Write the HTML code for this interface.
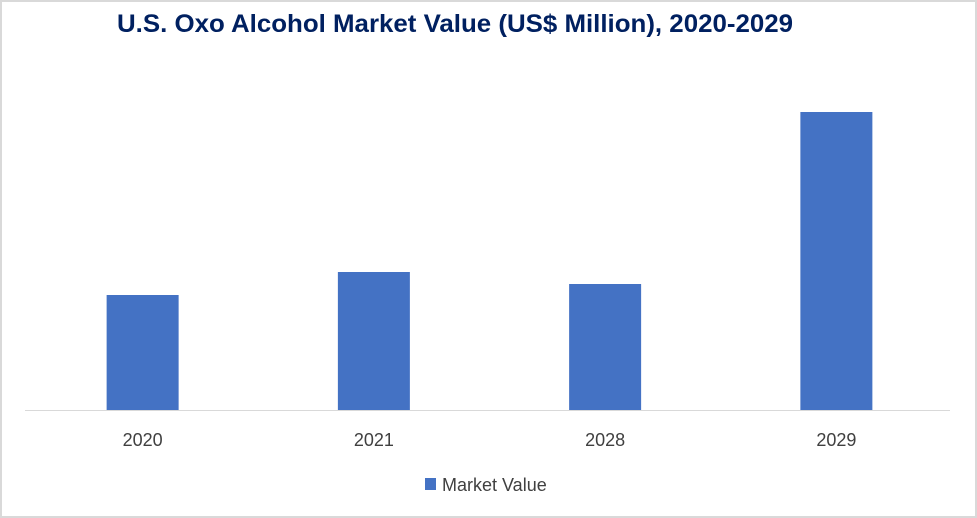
<!DOCTYPE html>
<html><head><meta charset="utf-8"><style>
html,body{margin:0;padding:0;background:#fff}
svg{display:block;font-family:"Liberation Sans",sans-serif}
</style></head><body>
<svg width="977" height="518" viewBox="0 0 977 518">
<rect x="1" y="1" width="975" height="516" fill="#fff" stroke="#d9d9d9" stroke-width="2"/>
<text x="117" y="32" font-size="25" font-weight="bold" fill="#002060" textLength="676" lengthAdjust="spacingAndGlyphs">U.S. Oxo Alcohol Market Value (US$ Million), 2020-2029</text>
<g id="plot"></g>
<line x1="25" y1="410.5" x2="950" y2="410.5" stroke="#d9d9d9" stroke-width="1"/>
<rect x="425" y="478" width="11" height="12" fill="#4472c4"/>
<text x="442" y="491" font-size="18" fill="#404040">Market Value</text>
</svg>
<script>
const categories = ["2020","2021","2028","2029"];
const values = [115, 138, 126, 298];
const plotLeft = 25, plotRight = 950, baseY = 410, topY = 60, maxV = 350;
const band = (plotRight - plotLeft) / categories.length;
function xCenter(i){ return plotLeft + band * (i + 0.5) + 2; }
function yScale(v){ return baseY - (v / maxV) * (baseY - topY); }
const g = document.getElementById('plot');
const ns = 'http://www.w3.org/2000/svg';
const barW = 72;
categories.forEach((c, i) => {
  const r = document.createElementNS(ns, 'rect');
  const y = yScale(values[i]);
  r.setAttribute('x', xCenter(i) - barW / 2);
  r.setAttribute('y', y);
  r.setAttribute('width', barW);
  r.setAttribute('height', baseY - y);
  r.setAttribute('fill', '#4472c4');
  
  
  g.appendChild(r);
  const t = document.createElementNS(ns, 'text');
  t.setAttribute('x', xCenter(i));
  t.setAttribute('y', 446);
  t.setAttribute('text-anchor', 'middle');
  t.setAttribute('font-size', '18');
  t.setAttribute('fill', '#404040');
  t.textContent = c;
  
  
  g.appendChild(t);
});
</script>
</body></html>
